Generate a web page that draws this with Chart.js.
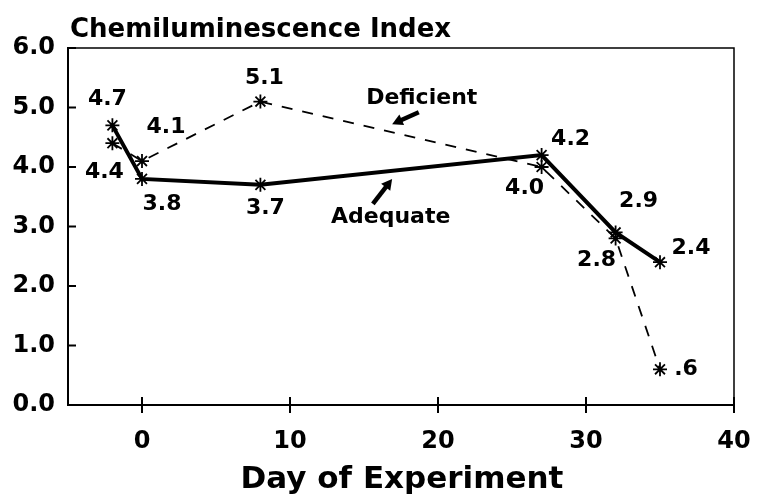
<!DOCTYPE html>
<html>
<head>
<meta charset="utf-8">
<title>Chemiluminescence Index</title>
<script src="https://cdn.jsdelivr.net/npm/chart.js"></script>
<style>
  html, body { margin: 0; padding: 0; background: #fff; }
  canvas { display: block; }
</style>
</head>
<body>
<canvas id="chart" width="759" height="496"></canvas>
<script>
// data
const days = [-2, 0, 8, 27, 32, 35];
const adequate = [4.7, 3.8, 3.7, 4.2, 2.9, 2.4];
const deficient = [4.4, 4.1, 5.1, 4.0, 2.8, 0.6];
const adequateLabels = ['4.7', '3.8', '3.7', '4.2', '2.9', '2.4'];
const deficientLabels = ['4.4', '4.1', '5.1', '4.0', '2.8', '.6'];
const xTicks = [0, 10, 20, 30, 40];
const yTicks = [0, 1, 2, 3, 4, 5, 6];
const yTickLabels = ['0.0', '1.0', '2.0', '3.0', '4.0', '5.0', '6.0'];

// where each value label sits relative to its point (px)
const adequateOffsets = [[-5, -26], [20, 25], [5, 23], [29, -16], [23, -31], [31, -14]];
const deficientOffsets = [[-8, 29], [24, -34], [4, -23], [-17, 21], [-19, 22], [26, 0]];

const FONT = '"DejaVu Sans", sans-serif';

const toPoints = ys => ys.map((y, i) => ({ x: days[i], y: y }));

function arrow(ctx, x1, y1, x2, y2) {
    const a = Math.atan2(y2 - y1, x2 - x1);
    const head = 12;
    ctx.lineWidth = 4.5;
    ctx.beginPath();
    ctx.moveTo(x1, y1);
    ctx.lineTo(x2 - Math.cos(a) * head * 0.7, y2 - Math.sin(a) * head * 0.7);
    ctx.stroke();
    ctx.beginPath();
    ctx.moveTo(x2, y2);
    ctx.lineTo(x2 - head * Math.cos(a - 0.5), y2 - head * Math.sin(a - 0.5));
    ctx.lineTo(x2 - head * Math.cos(a + 0.5), y2 - head * Math.sin(a + 0.5));
    ctx.closePath();
    ctx.fill();
}

const decorations = {
    id: 'decorations',
    afterDraw(chart) {
        const ctx = chart.ctx;
        const { left, right, top, bottom } = chart.chartArea;
        const sx = chart.scales.x, sy = chart.scales.y;
        ctx.save();
        ctx.strokeStyle = '#000';
        ctx.fillStyle = '#000';

        // top and right frame
        ctx.lineWidth = 1.5;
        ctx.beginPath();
        ctx.moveTo(left, top);
        ctx.lineTo(right, top);
        ctx.lineTo(right, bottom);
        ctx.stroke();

        // tick marks: y inward, x crossing the axis
        ctx.lineWidth = 2;
        yTicks.forEach(v => {
            const y = sy.getPixelForValue(v);
            ctx.beginPath(); ctx.moveTo(left, y); ctx.lineTo(left + 8, y); ctx.stroke();
        });
        xTicks.forEach(v => {
            const x = sx.getPixelForValue(v);
            ctx.beginPath(); ctx.moveTo(x, bottom - 8); ctx.lineTo(x, bottom + 8); ctx.stroke();
        });

        // value labels
        ctx.font = 'bold 22px ' + FONT;
        ctx.textAlign = 'center';
        ctx.textBaseline = 'middle';
        [[adequate, adequateLabels, adequateOffsets], [deficient, deficientLabels, deficientOffsets]]
            .forEach(([vals, labs, offs]) => {
                vals.forEach((v, i) => {
                    const x = sx.getPixelForValue(days[i]) + offs[i][0];
                    const y = sy.getPixelForValue(v) + offs[i][1];
                    ctx.fillText(labs[i], x, y);
                });
            });

        // series annotations with arrows (positioned in data units)
        ctx.fillText('Deficient', sx.getPixelForValue(18.9), sy.getPixelForValue(5.16));
        ctx.fillText('Adequate', sx.getPixelForValue(16.8), sy.getPixelForValue(3.16));
        arrow(ctx, sx.getPixelForValue(18.7), sy.getPixelForValue(4.92),
                   sx.getPixelForValue(16.9), sy.getPixelForValue(4.72));
        arrow(ctx, sx.getPixelForValue(15.6), sy.getPixelForValue(3.38),
                   sx.getPixelForValue(16.9), sy.getPixelForValue(3.8));

        // titles
        ctx.textBaseline = 'alphabetic';
        ctx.textAlign = 'left';
        ctx.font = 'bold 26px ' + FONT;
        ctx.fillText('Chemiluminescence Index', 70, 37);
        ctx.textAlign = 'center';
        ctx.font = 'bold 31px ' + FONT;
        ctx.fillText('Day of Experiment', 402, 488);
        ctx.restore();
    }
};

new Chart(document.getElementById('chart'), {
    type: 'line',
    data: {
        datasets: [
            {
                label: 'Adequate',
                data: toPoints(adequate),
                borderColor: '#000',
                borderWidth: 4,
                pointStyle: 'star',
                pointRadius: 7,
                pointBorderWidth: 1.8,
                pointBorderColor: '#000',
                tension: 0
            },
            {
                label: 'Deficient',
                data: toPoints(deficient),
                borderColor: '#000',
                borderWidth: 1.8,
                borderDash: [11, 10],
                pointStyle: 'star',
                pointRadius: 7,
                pointBorderWidth: 1.8,
                pointBorderColor: '#000',
                tension: 0
            }
        ]
    },
    options: {
        responsive: false,
        animation: false,
        layout: { padding: { top: 48, right: 25, left: 0, bottom: 0 } },
        plugins: { legend: { display: false }, tooltip: { enabled: false } },
        scales: {
            x: {
                type: 'linear',
                min: -5,
                max: 40,
                afterBuildTicks: s => { s.ticks = xTicks.map(v => ({ value: v })); },
                afterFit: s => { s.height = 91; s.paddingLeft = 0; s.paddingRight = 0; },
                grid: { display: false, drawTicks: false },
                border: { display: true, color: '#000', width: 2 },
                ticks: {
                    color: '#000',
                    padding: 22,
                    maxRotation: 0,
                    font: { family: FONT, size: 24, weight: 'bold' },
                    callback: v => String(v)
                }
            },
            y: {
                type: 'linear',
                min: 0,
                max: 6,
                afterBuildTicks: s => { s.ticks = yTicks.map(v => ({ value: v })); },
                afterFit: s => { s.width = 68; s.paddingTop = 0; s.paddingBottom = 0; },
                grid: { display: false, drawTicks: false },
                border: { display: true, color: '#000', width: 2 },
                ticks: {
                    color: '#000',
                    padding: 13,
                    font: { family: FONT, size: 24, weight: 'bold' },
                    callback: (v, i) => yTickLabels[i]
                }
            }
        }
    },
    plugins: [decorations]
});
</script>
</body>
</html>
